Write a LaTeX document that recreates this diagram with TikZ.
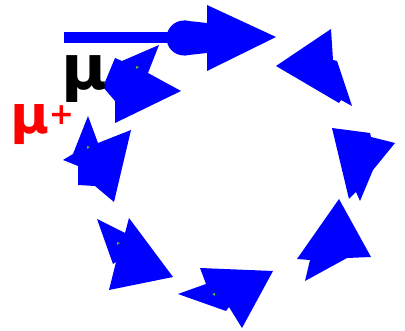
\documentclass[tikz,border=0pt]{standalone}
\usepackage{fontspec}
\newfontfamily\djs{DejaVu Sans}
\begin{document}
\begin{tikzpicture}[x=1pt,y=-1pt,
  blk/.style={fill=blue,draw=none},
  dot/.style={fill=green!45!gray,draw=none},
  lbl/.style={inner sep=0pt,outer sep=0pt,anchor=base west}]
\useasboundingbox (0,0) rectangle (405,331);
% top arrow with shaft and ball
\fill[blk] (64,32.5) rectangle (172,43.5);
\fill[blk] (184,38) circle (17.5);
\fill[blk] (184,20.5) -- (207,23) -- (207,53) -- (184,55.5) -- cycle;
\fill[blk] (207,5) -- (276,37) -- (207,71) -- cycle;
% ring of double arrow tips
\fill[blk] (159,45) -- (148,73) -- (181,91) -- (115,123) -- (115,101) -- (103,87) -- (115,58) -- (122,61) -- cycle;
\fill[blk] (88,116) -- (98,143) -- (131,130) -- (114,202) -- (95,186) -- (78,185) -- (78,166) -- (63,160) -- (73,154) -- cycle;
\fill[blk] (97,219) -- (125,233) -- (129,218) -- (173,277) -- (109,290) -- (116,262) -- (113,264) -- cycle;
\fill[blk] (178,294) -- (206,284) -- (200,268) -- (273,271) -- (242,328) -- (229,307) -- (226,311) -- cycle;
\fill[blk] (339,199) -- (371,257) -- (347,258) -- (305,281) -- (310,260) -- (297,259) -- cycle;
\fill[blk] (332,128) -- (370,133) -- (371,137) -- (395,143) -- (373,170) -- (360,201) -- (356,192) -- (349,199) -- cycle;
\fill[blk] (276,66) -- (331,29) -- (333,60) -- (337,61) -- (352,106) -- (341,100) -- (339,103) -- cycle;
% tiny green marks
\fill[dot] (136,66) -- (139,67) -- (136,69) -- cycle;
\fill[dot] (87,146) -- (90,147) -- (87,149) -- cycle;
\fill[dot] (117,242) -- (120,243) -- (117,245) -- cycle;
\fill[dot] (215,293) -- (212,294) -- (215,296) -- cycle;
% labels
\node[lbl,text=black] (mu) at (61,90) {\djs\bfseries\fontsize{62}{62}\selectfont μ};
\node[lbl,text=red] (muplus) at (10,134) {\djs\bfseries\fontsize{53}{53}\selectfont μ\raisebox{9pt}{\fontsize{30}{30}\selectfont +}};
\end{tikzpicture}
\end{document}
